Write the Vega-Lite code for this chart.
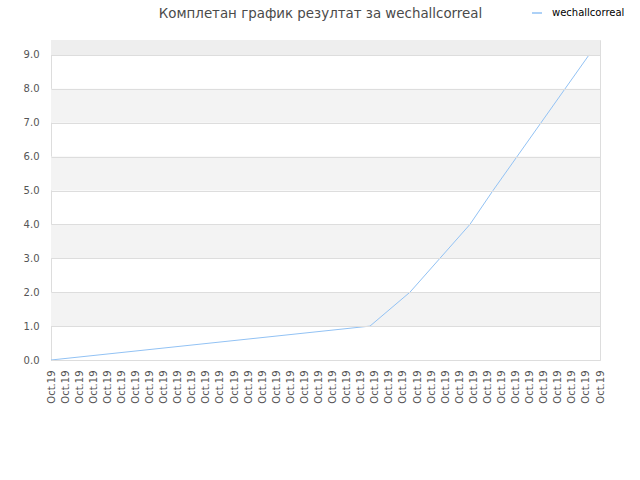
{
  "$schema": "https://vega.github.io/schema/vega-lite/v6.json",
  "width": 549,
  "height": 320,
  "autosize": {"type": "none"},
  "padding": {"left": 51, "top": 40, "right": 40, "bottom": 120},
  "background": "white",
  "title": {
    "text": "Комплетан график резултат за wechallcorreal",
    "font": "DejaVu Sans",
    "fontSize": 13.4,
    "fontWeight": "normal",
    "color": "#4a4a4a",
    "anchor": "middle",
    "frame": "group",
    "offset": -13,
    "dx": -5
  },
  "layer": [
    {
      "data": {
        "values": [
          {"lo": 1, "hi": 2, "shade": "band"},
          {"lo": 3, "hi": 4, "shade": "band"},
          {"lo": 5, "hi": 6, "shade": "band"},
          {"lo": 7, "hi": 8, "shade": "band"},
          {"lo": 9, "hi": 9.44, "shade": "top"}
        ]
      },
      "mark": {"type": "rect"},
      "encoding": {
        "y": {
          "field": "lo",
          "type": "quantitative",
          "scale": {"domain": [0, 9.44], "nice": false},
          "axis": {
            "values": [0,1,2,3,4,5,6,7,8,9],
            "format": ".1f",
            "labelFont": "DejaVu Sans",
            "labelFontSize": 10,
            "labelColor": "#555555",
            "labelPadding": 12,
            "ticks": false,
            "domain": false,
            "grid": true,
            "gridColor": "#dddddd",
            "gridWidth": 1,
            "zindex": 1,
            "title": null
          }
        },
        "y2": {"field": "hi"},
        "fill": {
          "field": "shade",
          "type": "nominal",
          "scale": {"domain": ["band", "top"], "range": ["#f3f3f3", "#eeeeee"]},
          "legend": null
        }
      }
    },
    {
      "data": {
        "values": [
          {"step": 0, "score": 0, "player": "wechallcorreal"},
          {"step": 22.66, "score": 1, "player": "wechallcorreal"},
          {"step": 25.5, "score": 2, "player": "wechallcorreal"},
          {"step": 27.63, "score": 3, "player": "wechallcorreal"},
          {"step": 29.76, "score": 4, "player": "wechallcorreal"},
          {"step": 31.4, "score": 5, "player": "wechallcorreal"},
          {"step": 38.22, "score": 9, "player": "wechallcorreal"}
        ]
      },
      "mark": {"type": "line", "strokeWidth": 1},
      "encoding": {
        "x": {
          "field": "step",
          "type": "quantitative",
          "scale": {"domain": [0, 39], "nice": false, "zero": false},
          "axis": {
            "values": [0,1,2,3,4,5,6,7,8,9,10,11,12,13,14,15,16,17,18,19,20,21,22,23,24,25,26,27,28,29,30,31,32,33,34,35,36,37,38,39],
            "labelExpr": "'Oct.19'",
            "labelAngle": -90,
            "labelFont": "DejaVu Sans",
            "labelFontSize": 10,
            "labelColor": "#555555",
            "labelOverlap": false,
            "labelFlush": false,
            "labelBound": false,
            "labelPadding": 10,
            "ticks": false,
            "domain": false,
            "grid": false,
            "title": null
          }
        },
        "y": {
          "field": "score",
          "type": "quantitative",
          "scale": {"domain": [0, 9.44], "nice": false},
          "axis": {
            "values": [0,1,2,3,4,5,6,7,8,9],
            "format": ".1f",
            "labelFont": "DejaVu Sans",
            "labelFontSize": 10,
            "labelColor": "#555555",
            "labelPadding": 12,
            "ticks": false,
            "domain": false,
            "grid": true,
            "gridColor": "#dddddd",
            "gridWidth": 1,
            "zindex": 1,
            "title": null
          }
        },
        "color": {
          "field": "player",
          "type": "nominal",
          "scale": {"domain": ["wechallcorreal"], "range": ["#92c2f4"]},
          "legend": {
            "orient": "none",
            "legendX": 480,
            "legendY": -33,
            "title": null,
            "symbolType": "stroke",
            "symbolSize": 100,
            "symbolStrokeWidth": 1.5,
            "labelOffset": 9,
            "labelFont": "DejaVu Sans",
            "labelFontSize": 10,
            "labelColor": "#000000"
          }
        }
      }
    }
  ],
  "config": {
    "view": {"stroke": "#dddddd"}
  }
}
